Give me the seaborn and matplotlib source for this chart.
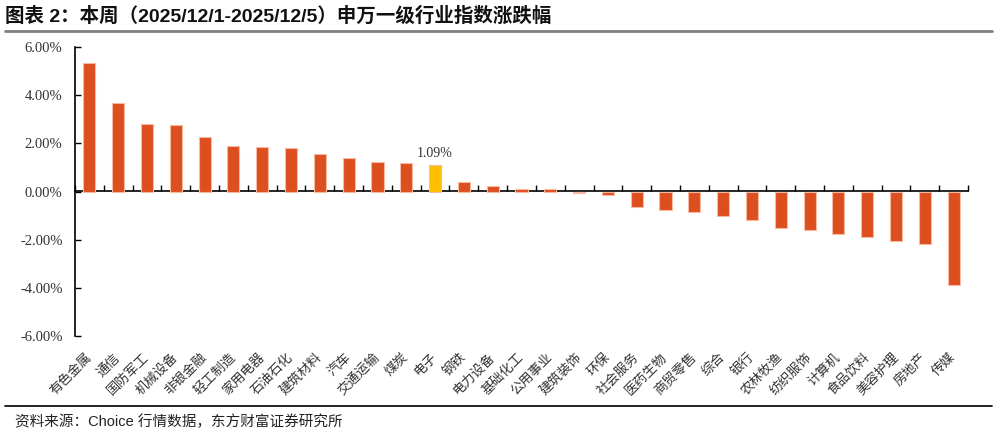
import numpy as np
import pandas as pd
import seaborn as sns
import matplotlib.pyplot as plt

# 申万一级行业本周涨跌幅（%）
industries = ['有色金属', '通信', '国防军工', '机械设备', '非银金融', '轻工制造', '家用电器',
              '石油石化', '建筑材料', '汽车', '交通运输', '煤炭', '电子', '钢铁', '电力设备',
              '基础化工', '公用事业', '建筑装饰', '环保', '社会服务', '医药生物', '商贸零售',
              '综合', '银行', '农林牧渔', '纺织服饰', '计算机', '食品饮料', '美容护理',
              '房地产', '传媒']
changes = [5.34, 3.69, 2.82, 2.75, 2.26, 1.87, 1.83, 1.82, 1.54, 1.39, 1.21, 1.18, 1.09,
           0.41, 0.23, 0.11, 0.11, -0.08, -0.15, -0.66, -0.76, -0.84, -1.03, -1.18, -1.50,
           -1.60, -1.75, -1.90, -2.04, -2.18, -3.87]
highlight = '电子'
y_ticks = [-6, -4, -2, 0, 2, 4, 6]

title = '图表 2：本周（2025/12/1-2025/12/5）申万一级行业指数涨跌幅'
source = '资料来源：Choice 行情数据，东方财富证券研究所'

sns.set_style("white")
plt.rcParams['font.family'] = ['Liberation Sans', 'Noto Sans CJK SC']

df = pd.DataFrame({'行业': industries, '涨跌幅': changes})
bar_colors = ['#FFC000' if n == highlight else '#DE4F20' for n in industries]

W, H = 997, 436
fig = plt.figure(figsize=(W / 100, H / 100), dpi=100)
ax = fig.add_axes([75 / W, 1 - 336 / H, (968 - 75) / W, (336 - 47) / H])

sns.barplot(data=df, x='行业', y='涨跌幅', hue='行业', palette=bar_colors, width=0.42,
            saturation=1, legend=False, ax=ax, edgecolor='#F7B9A0', linewidth=0.8)

ymin, ymax = y_ticks[0], y_ticks[-1]
ax.set_ylim(ymin, ymax)
ax.set_xlim(-0.5, len(industries) - 0.5)
ax.set_xlabel('')
ax.set_ylabel('')

# y 轴
ax.set_yticks(y_ticks)
ax.set_yticklabels([f'{v:.2f}%' for v in y_ticks], family='Liberation Serif',
                   fontsize=10.5, color='#333333')
ax.tick_params(axis='y', direction='in', length=4, width=1, color='black', pad=9, left=True)

# x 轴标签放在底部
ax.set_xticks(range(len(industries)))
ax.set_xticklabels(industries, rotation=45, ha='right', va='center', rotation_mode='anchor',
                   family='Noto Sans CJK SC', fontsize=9.5, color='#333333')
ax.tick_params(axis='x', length=0, pad=14)

for s in ['top', 'right', 'bottom']:
    ax.spines[s].set_visible(False)
ax.spines['left'].set_color('black')
ax.spines['left'].set_linewidth(1.2)

# 零轴线及分隔刻度
zero_frac = (0 - ymin) / (ymax - ymin)
sec = ax.secondary_xaxis(zero_frac)
sec.set_xticks(np.arange(len(industries) + 1) - 0.5)
sec.tick_params(axis='x', direction='out', length=4, width=1, color='black',
                labeltop=False, labelbottom=False)
for s in sec.spines.values():
    s.set_color('black')
    s.set_linewidth(1.2)

# 高亮数据标签
idx = industries.index(highlight)
ax.annotate(f'{changes[idx]:.2f}%', (idx, changes[idx]), xytext=(0, 4),
            textcoords='offset points', ha='center', va='bottom',
            family='Liberation Serif', fontsize=10, color='#333333')

# 标题与来源
fig.text(5 / W, 1 - 16 / H, title, ha='left', va='center', fontsize=14, fontweight='bold',
         color='#111111')
fig.add_artist(plt.Line2D([5 / W, 992 / W], [1 - 31 / H] * 2, color='#7f7f7f', lw=2))
fig.add_artist(plt.Line2D([5 / W, 992 / W], [1 - 406 / H] * 2, color='#111111', lw=1.3))
fig.text(15 / W, 1 - 422 / H, source, ha='left', va='center', fontsize=10.5, color='#222222')

fig.savefig('out.png', dpi=100)
